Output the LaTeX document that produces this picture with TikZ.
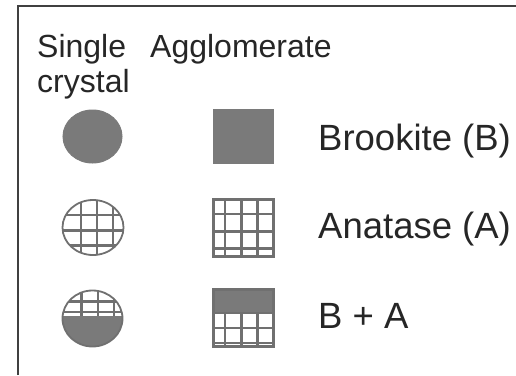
\documentclass[tikz,border=0pt]{standalone}
\usepackage{fontspec}
\setmainfont{Liberation Sans}
\definecolor{fillgray}{HTML}{7A7A7A}
\definecolor{linegray}{HTML}{707070}
\definecolor{framegray}{HTML}{404040}
\tikzset{
  x=1pt, y=-1pt,
  head/.style={anchor=base west, inner sep=0pt, font=\fontsize{32}{36}\selectfont, text=black!85},
  lbl/.style={anchor=base west, inner sep=0pt, font=\fontsize{36.5}{40}\selectfont, text=black!85},
  gridline/.style={draw=linegray, line width=2.3pt},
  solid fill/.style={fill=fillgray, draw=fillgray, line width=1pt},
}
\begin{document}
\begin{tikzpicture}
\useasboundingbox (0,0) rectangle (516,375);
% frame
\draw[framegray, line width=2pt] (18,375) -- (18,6) -- (516,6);
% headers
\node[head] (h1) at (37,57) {Single};
\node[head] (h2) at (37,92) {crystal};
\node[head] (h3) at (150,57) {Agglomerate};
% labels
\node[lbl] (l1) at (318,150) {Brookite (B)};
\node[lbl] (l2) at (318,238) {Anatase (A)};
\node[lbl] (l3) at (318,328) {B + A};
% row 1
\fill[solid fill] (92.5,136.5) ellipse [x radius=29.5, y radius=26.5];
\fill[solid fill] (213.5,109.5) rectangle (273.5,163);
% row 2: circle grid
\begin{scope}
  \clip (93,227.5) ellipse [x radius=30.5, y radius=27.5];
  \foreach \gx in {81,97,113} \draw[gridline] (\gx,195) -- (\gx,260);
  \foreach \gy in {215,230.5,245.5} \draw[gridline] (55,\gy) -- (130,\gy);
\end{scope}
\draw[gridline, line width=1.8pt] (93,227.5) ellipse [x radius=30.5, y radius=27.5];
% row 2: square grid
\draw[gridline] (213.5,199.5) rectangle (273.5,256.5);
\foreach \gx in {225,241.5,257.5} \draw[gridline] (\gx,199.5) -- (\gx,256.5);
\foreach \gy in {214,231.5,248.5} \draw[gridline] (213.5,\gy) -- (273.5,\gy);
% row 3: circle half
\begin{scope}
  \clip (92.5,318.5) ellipse [x radius=30, y radius=28];
  \fill[fillgray] (55,316) rectangle (130,350);
  \foreach \gx in {81.5,98,114} \draw[gridline] (\gx,285) -- (\gx,316);
  \foreach \gy in {301.5,312} \draw[gridline] (55,\gy) -- (130,\gy);
\end{scope}
\draw[gridline, line width=1.8pt] (92.5,318.5) ellipse [x radius=30, y radius=28];
% row 3: square half
\fill[fillgray] (213.5,289.5) rectangle (273.5,313);
\draw[gridline] (213.5,289.5) rectangle (273.5,346.5);
\foreach \gx in {225,241.5,257.5} \draw[gridline] (\gx,313) -- (\gx,346.5);
\foreach \gy in {313,328,343} \draw[gridline] (213.5,\gy) -- (273.5,\gy);
\end{tikzpicture}
\end{document}
